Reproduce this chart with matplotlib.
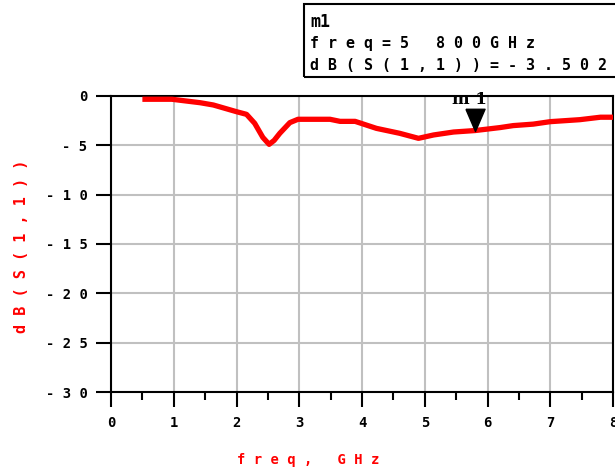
import matplotlib.pyplot as plt
import numpy as np
from matplotlib.patches import Rectangle
from matplotlib.ticker import FuncFormatter

freq = [0.5, 0.97, 1.42, 1.63, 2.0, 2.16, 2.29, 2.42, 2.52, 2.60, 2.69, 2.85, 2.98,
        3.49, 3.65, 3.89, 4.23, 4.6, 4.9, 5.14, 5.46, 5.8, 6.2, 6.41, 6.73, 7.0,
        7.47, 7.8, 8.0]
s11_db = [-0.33, -0.33, -0.68, -0.91, -1.59, -1.86, -2.77, -4.2, -4.9, -4.5, -3.78,
          -2.7, -2.36, -2.36, -2.57, -2.57, -3.28, -3.78, -4.29, -3.95, -3.65,
          -3.502, -3.2, -3.0, -2.85, -2.6, -2.4, -2.15, -2.15]

m1_freq = 5.8
m1_val = -3.502

red = '#ff0000'
mono = 'DejaVu Sans Mono'


def spaced(s):
    return ' '.join(s)


fig = plt.figure(figsize=(6.15, 4.75), dpi=100)
ax = fig.add_axes([111 / 615, 83 / 475, 502 / 615, 296 / 475])

ax.plot(freq, s11_db, color=red, lw=3.8, solid_capstyle='butt', zorder=3)

# marker m1 (tip on the curve)
tri = [(-0.43, 1.0), (0.43, 1.0), (0, 0), (-0.43, 1.0)]
ax.plot([m1_freq], [m1_val], marker=tri, markersize=32, color='black',
        linestyle='none', zorder=4, clip_on=False)
ax.text(m1_freq - 0.08, -0.4, 'm 1', family='DejaVu Serif', fontweight='bold',
        fontsize=12, ha='center', va='center', zorder=5)

ax.set_xlim(0, 8)
ax.set_ylim(-30, 0)
ax.set_xticks(np.arange(0, 9, 1))
ax.set_xticks(np.arange(0.5, 8, 1), minor=True)
ax.set_yticks(np.arange(-30, 1, 5))
ax.xaxis.set_major_formatter(FuncFormatter(lambda v, p: spaced(f'{v:.0f}')))
ax.yaxis.set_major_formatter(FuncFormatter(lambda v, p: spaced(f'{v:.0f}')))

ax.grid(True, which='major', color='#c0c0c0', lw=1.5)
for sp in ax.spines.values():
    sp.set_linewidth(1.5)
ax.tick_params(axis='both', which='major', direction='out', length=11, width=1.5,
               labelsize=10, pad=6)
ax.tick_params(axis='x', which='minor', direction='out', length=6, width=1.5)
for lab in ax.get_xticklabels() + ax.get_yticklabels():
    lab.set_fontweight('bold')
    lab.set_family(mono)

fig.text(308 / 615, 1 - 460 / 475, spaced('freq,') + '   ' + spaced('GHz'),
         color=red, family=mono, fontweight='bold', fontsize=10,
         ha='center', va='center')
fig.text(22 / 615, 1 - 246 / 475, spaced('dB(S(1,1))'), color=red, family=mono,
         fontweight='bold', fontsize=11, rotation=90, ha='center', va='center')

# marker readout box
fig.patches.append(Rectangle((304 / 615, 1 - 77 / 475), 0.6, 73 / 475,
                             transform=fig.transFigure, fill=False,
                             edgecolor='black', lw=1.5))
box_lines = ['m1', spaced('freq=5') + '   ' + spaced('800GHz'),
             spaced('dB(S(1,1))=-3.502')]
for i, t in enumerate(box_lines):
    fig.text(310 / 615, 1 - (22 + i * 21.5) / 475, t, family=mono,
             fontweight='bold', fontsize=10.8 if i else 12, ha='left', va='center')

fig.savefig('out.png', dpi=100)
